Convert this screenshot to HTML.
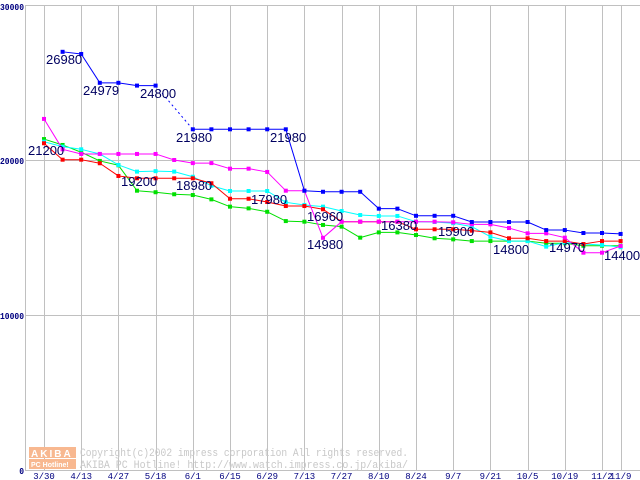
<!DOCTYPE html>
<html><head><meta charset="utf-8"><style>
html,body{margin:0;padding:0;background:#fff;width:640px;height:480px;overflow:hidden}
svg{display:block}
</style></head><body>
<svg id="chart" width="640" height="480" xmlns="http://www.w3.org/2000/svg" font-family="'Liberation Sans',sans-serif"></svg>
<script>
const categories=["3/30","4/6","4/13","4/20","4/27","5/11","5/18","5/25","6/1","6/8","6/15","6/22","6/29","7/6","7/13","7/20","7/27","8/3","8/10","8/17","8/24","8/31","9/7","9/14","9/21","9/28","10/5","10/12","10/19","10/26","11/2","11/9"];
const tickLabels=["3/30","4/13","4/27","5/18","6/1","6/15","6/29","7/13","7/27","8/10","8/24","9/7","9/21","10/5","10/19","11/2","11/9"];
const yTicks=[0,10000,20000,30000];
const blueValues=[null,26980,26840,24979,24979,24800,24800,null,21980,21980,21980,21980,21980,21980,18020,17950,17950,17950,16860,16860,16400,16400,16400,16000,16000,16000,16000,15480,15480,15290,15290,15230];
const magentaValues=[22650,20690,20390,20390,20390,20390,20390,20000,19800,19800,19440,19440,19230,18020,18020,14980,16020,16020,16020,16020,16020,16020,15980,15850,15850,15610,15270,15270,14990,14020,14020,14450];
const redValues=[21080,20020,20020,19790,18970,18820,18820,18820,18820,18500,17500,17500,17290,17030,17030,16820,16020,16020,16020,16020,15530,15530,15530,15440,15330,14950,14950,14770,14770,14580,14770,14770];
const cyanValues=[21180,20860,20690,20390,19680,19250,19280,19250,18920,18340,18000,18000,18000,17270,17100,16990,16710,16450,16390,16390,16020,16000,15920,15700,15050,14770,14770,14410,14670,14580,14520,14370];
const greenValues=[21350,20970,20500,19940,19660,18020,17920,17790,17740,17460,16990,16880,16660,16060,16020,15810,15700,14990,15330,15330,15160,14950,14880,14770,14770,14770,14770,14630,14630,14470,14470,14470];
const annotations=[["26980",1,26980,46,64],["24979",3,24979,83,95],["24800",5,24800,140,98],["21980",8,21980,176,142],["21980",13,21980,270,142],["21200",0,21200,28,155],["19200",4,19200,121,186],["18980",8,18980,176,190],["17980",11,17980,251,204],["16960",15,16960,307,221],["14980",15,14980,307,249],["16380",19,16380,381,230],["15900",22,15900,438,236],["14800",24,14800,493,254],["14970",28,14970,549,252],["14400",30,14400,604,260]];

const NS="http://www.w3.org/2000/svg";
const svg=document.getElementById('chart');
const X=i=>44+i*18.6;
const Y=v=>470-v*0.0155;
function mk(tag,attrs,parent){const e=document.createElementNS(NS,tag);for(const k in attrs)e.setAttribute(k,attrs[k]);(parent||svg).appendChild(e);return e;}

const grid=mk('g',{});


yTicks.forEach(v=>{
  const l=mk('line',{x1:25,x2:640,y1:Y(v)+0.5,y2:Y(v)+0.5,stroke:'#c0c0c0','stroke-width':1},grid);
  
  
  const s=String(v);
  const t=mk('text',{x:24,y:Math.max(Y(v)+4,10),'text-anchor':'end','font-size':9,'font-weight':'bold',fill:'#000080','font-family':"'Liberation Mono',monospace",textLength:s.length*4.8,lengthAdjust:'spacingAndGlyphs'});
  t.textContent=s;
  
  
});
tickLabels.forEach(lab=>{
  const i=categories.indexOf(lab);
  const l=mk('line',{x1:Math.round(X(i))+0.5,x2:Math.round(X(i))+0.5,y1:5,y2:471,stroke:'#c0c0c0','stroke-width':1},grid);
  
  
  const t=mk('text',{x:X(i),y:479,'text-anchor':'middle','font-size':9,fill:'#000080','font-family':"'Liberation Mono',monospace"});
  t.textContent=lab;
  
  
});
const ax=mk('line',{x1:25.5,x2:25.5,y1:5,y2:471,stroke:'#c0c0c0'},grid);



const wm=mk('g',{});


mk('rect',{x:29,y:447,width:47,height:11,fill:'#f8b890'},wm);
mk('rect',{x:29,y:459,width:47,height:10,fill:'#f8b890'},wm);
const w1=mk('text',{x:31,y:457,'font-size':10,'font-weight':'bold',fill:'#fff','letter-spacing':2},wm);w1.textContent='AKIBA';
const w2=mk('text',{x:31,y:467,'font-size':7,'font-weight':'bold',fill:'#fff'},wm);w2.textContent='PC Hotline!';
const w3=mk('text',{x:80,y:456,'font-size':11,fill:'#c8c8c8','font-family':"'Liberation Mono',monospace",textLength:328,lengthAdjust:'spacingAndGlyphs'},wm);w3.textContent='Copyright(c)2002 impress corporation All rights reserved.';
const w4=mk('text',{x:80,y:468,'font-size':11,fill:'#c8c8c8','font-family':"'Liberation Mono',monospace",textLength:328,lengthAdjust:'spacingAndGlyphs'},wm);w4.textContent='AKIBA PC Hotline!  http://www.watch.impress.co.jp/akiba/';

function series(vals,color,name){
  const g=mk('g',{});
  
  
  let prev=null;
  vals.forEach((v,i)=>{
    if(v==null)return;
    if(prev!=null){
      const dashed=(i-prev>1);
      const ln=mk('line',{x1:X(prev),y1:Y(vals[prev]),x2:X(i),y2:Y(v),stroke:color,'stroke-width':1,'stroke-dasharray':dashed?'2 3':'none'},g);
      
      
    }
    prev=i;
  });
  vals.forEach((v,i)=>{
    if(v==null)return;
    const r=mk('rect',{x:X(i)-2,y:Y(v)-2,width:4,height:4,fill:color},g);
    
    
  });
}
series(greenValues,'#00e000','series-green');
series(cyanValues,'#00ffff','series-cyan');
series(redValues,'#ff0000','series-red');
series(magentaValues,'#ff00ff','series-magenta');
series(blueValues,'#0000ff','series-blue');

annotations.forEach(a=>{
  const t=mk('text',{x:a[3],y:a[4],'font-size':13,fill:'#000060'});
  t.textContent=a[0];
  
  
});
</script>
</body></html>
